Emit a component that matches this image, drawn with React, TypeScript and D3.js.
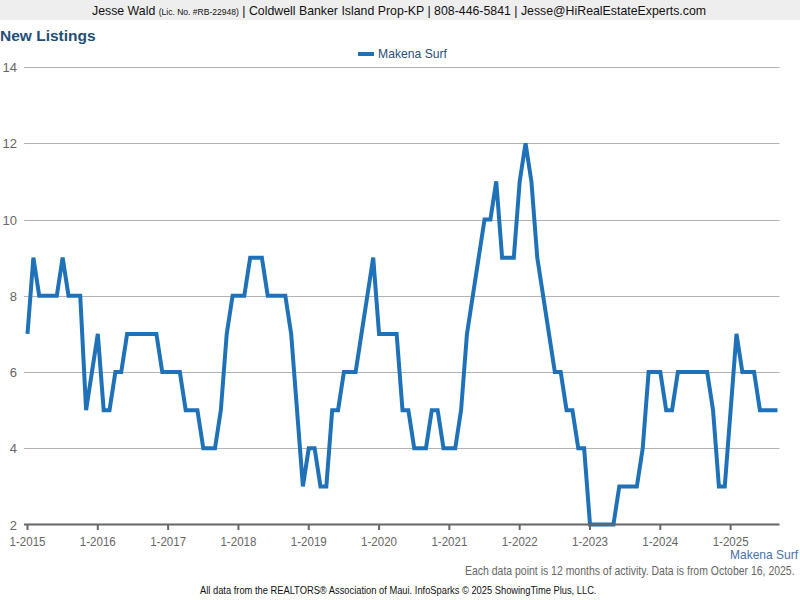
import React, { useEffect, useRef } from "react";
import * as d3 from "d3";

// monthly values, 1-2015 .. 9-2025 (12-month rolling new listings)
const values2015 = [7, 9, 8, 8, 8, 8, 9, 8, 8, 8, 5, 6];
const values2016 = [7, 5, 5, 6, 6, 7, 7, 7, 7, 7, 7, 6];
const values2017 = [6, 6, 6, 5, 5, 5, 4, 4, 4, 5, 7, 8];
const values2018 = [8, 8, 9, 9, 9, 8, 8, 8, 8, 7, 5, 3];
const values2019 = [4, 4, 3, 3, 5, 5, 6, 6, 6, 7, 8, 9];
const values2020 = [7, 7, 7, 7, 5, 5, 4, 4, 4, 5, 5, 4];
const values2021 = [4, 4, 5, 7, 8, 9, 10, 10, 11, 9, 9, 9];
const values2022 = [11, 12, 11, 9, 8, 7, 6, 6, 5, 5, 4, 4];
const values2023 = [2, 2, 2, 2, 2, 3, 3, 3, 3, 4, 6, 6];
const values2024 = [6, 5, 5, 6, 6, 6, 6, 6, 6, 5, 3, 3];
const values2025 = [5, 7, 6, 6, 6, 5, 5, 5, 5];

const seriesName = "Makena Surf";
const years = [2015, 2016, 2017, 2018, 2019, 2020, 2021, 2022, 2023, 2024, 2025];
const yTicks = [2, 4, 6, 8, 10, 12, 14];

const values = [
  ...values2015, ...values2016, ...values2017, ...values2018, ...values2019, ...values2020,
  ...values2021, ...values2022, ...values2023, ...values2024, ...values2025,
];

const LINE_COLOR = "#1f72b8";
const SANS = "'Liberation Sans', Arial, sans-serif";

const App = () => {
  const ref = useRef(null);

  useEffect(() => {
    const svg = d3.select(ref.current);
    svg.selectAll("*").remove();

    const x = d3.scaleLinear().domain([0, values.length - 1]).range([27.5, 777.5]);
    const y = d3.scaleLinear().domain([2, 14]).range([524.5, 67]);

    // the reference uses a condensed face; squeeze regular sans horizontally to the measured width
    const narrowText = (left, base, width, size, color) => {
      const g = svg.append("g");
      const t = g
        .append("text")
        .attr("x", 0)
        .attr("y", 0)
        .style("font-family", SANS)
        .style("font-size", size + "px")
        .attr("fill", color);
      return {
        t,
        fit: () => {
          const natural = t.node().getComputedTextLength();
          g.attr("transform", `translate(${left},${base}) scale(${width / natural},1)`);
        },
      };
    };

    // header bar
    svg.append("rect").attr("x", 0).attr("y", 0).attr("width", 800).attr("height", 20).attr("fill", "#eeeeee");
    const head = narrowText(92, 15, 615, 13, "#111");
    head.t.append("tspan").text("Jesse Wald ");
    head.t.append("tspan").style("font-size", "9px").text("(Lic. No. #RB-22948)");
    head.t.append("tspan").text(" | Coldwell Banker Island Prop-KP | 808-446-5841 | Jesse@HiRealEstateExperts.com");
    head.fit();

    svg
      .append("text")
      .attr("x", 0)
      .attr("y", 41)
      .style("font-family", SANS)
      .style("font-size", "15.5px")
      .style("font-weight", "bold")
      .attr("fill", "#1f4e79")
      .text("New Listings");

    // legend
    svg.append("rect").attr("x", 358).attr("y", 52).attr("width", 16).attr("height", 4).attr("fill", LINE_COLOR);
    const leg = narrowText(378, 58, 69, 13, "#2a4f7a");
    leg.t.text(seriesName);
    leg.fit();

    // grid + y labels
    svg
      .append("g")
      .selectAll("line")
      .data(yTicks.filter((t) => t > 2))
      .enter()
      .append("line")
      .attr("x1", 24)
      .attr("x2", 779.5)
      .attr("y1", (d) => Math.round(y(d)) + 0.5)
      .attr("y2", (d) => Math.round(y(d)) + 0.5)
      .attr("stroke", "#b3b3b3")
      .attr("stroke-width", 1);

    svg
      .append("g")
      .selectAll("text")
      .data(yTicks)
      .enter()
      .append("text")
      .attr("x", 17)
      .attr("y", (d) => y(d) + 5)
      .attr("text-anchor", "end")
      .style("font-family", SANS)
      .style("font-size", "13px")
      .attr("fill", "#666")
      .text((d) => d);

    // line
    const line = d3
      .line<number>()
      .x((d, i) => x(i))
      .y((d) => y(d));
    svg
      .append("path")
      .datum(values)
      .attr("d", line)
      .attr("fill", "none")
      .attr("stroke", LINE_COLOR)
      .attr("stroke-width", 4);

    // x axis
    svg
      .append("line")
      .attr("x1", 24)
      .attr("x2", 779.5)
      .attr("y1", 524.5)
      .attr("y2", 524.5)
      .attr("stroke", "#666")
      .attr("stroke-width", 2);

    const xt = svg.append("g").selectAll("g").data(years).enter().append("g");
    xt.append("line")
      .attr("x1", (d, i) => x(i * 12))
      .attr("x2", (d, i) => x(i * 12))
      .attr("y1", 524)
      .attr("y2", 530)
      .attr("stroke", "#666")
      .attr("stroke-width", 2);
    years.forEach((yr, i) => {
      const lab = narrowText(x(i * 12) - 18, 546, 36, 13, "#666");
      lab.t.text("1-" + yr);
      lab.fit();
    });

    const name2 = narrowText(730, 559, 68, 13, "#4a72a8");
    name2.t.text(seriesName);
    name2.fit();

    const note = narrowText(465, 575, 330, 12, "#666");
    note.t.text("Each data point is 12 months of activity. Data is from October 16, 2025.");
    note.fit();

    const foot = narrowText(200, 594, 397, 11, "#111");
    foot.t.text("All data from the REALTORS® Association of Maui. InfoSparks © 2025 ShowingTime Plus, LLC.");
    foot.fit();
  }, []);

  return (
    <svg
      ref={ref}
      width={800}
      height={600}
      style={{ position: "absolute", left: 0, top: 0, background: "#fff" }}
    ></svg>
  );
};

export default App;
